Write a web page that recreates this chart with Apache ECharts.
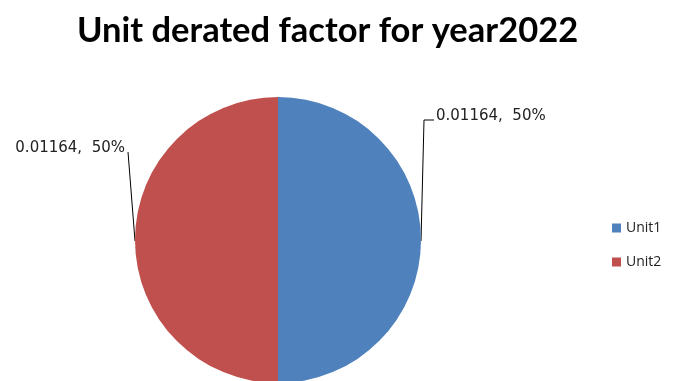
<!DOCTYPE html>
<html>
<head>
<meta charset="utf-8">
<script src="https://cdn.jsdelivr.net/npm/echarts@6/dist/echarts.min.js"></script>
<style>
  html, body { margin: 0; padding: 0; background: #fff; }
  #chart { width: 673px; height: 381px; }
</style>
</head>
<body>
<div id="chart"></div>
<script>
const units = ['Unit1', 'Unit2'];
const factors = [0.01164, 0.01164];
const colors = ['#4F81BD', '#C0504D'];

const center = [278, 240];
const radius = 143;

const chart = echarts.init(document.getElementById('chart'));

chart.setOption({
  animation: false,
  color: colors,
  title: {
    text: 'Unit derated factor for year2022',
    left: 72,
    top: 8,
    textStyle: {
      fontFamily: 'Lato',
      fontWeight: 'bold',
      fontSize: 34.5,
      color: '#000'
    }
  },
  legend: {
    orient: 'vertical',
    left: 607,
    top: 216,
    itemWidth: 9,
    itemHeight: 9,
    itemGap: 20,
    icon: 'rect',
    data: units,
    textStyle: {
      fontFamily: 'Open Sans',
      fontSize: 14,
      color: '#222'
    }
  },
  series: [{
    type: 'pie',
    center: center,
    radius: radius,
    startAngle: 90,
    clockwise: true,
    data: units.map((u, i) => ({ name: u, value: factors[i] })),
    label: {
      show: true,
      overflow: 'none',
      formatter: (p) => p.value + ',  ' + Math.round(p.percent) + '%',
      fontFamily: 'DejaVu Sans',
      fontSize: 15,
      color: '#222'
    },
    labelLine: {
      show: true,
      lineStyle: { color: '#000', width: 1 }
    },
    labelLayout: (params) => {
      if (params.dataIndex === 0) {
        return {
          x: 436,
          y: 116,
          align: 'left',
          verticalAlign: 'middle',
          labelLinePoints: [[421, 241], [424, 120], [434, 120]]
        };
      }
      return {
        x: 125,
        y: 148,
        align: 'right',
        verticalAlign: 'middle',
        labelLinePoints: [[135, 241], [128, 152], [128, 152]]
      };
    },
    emphasis: { disabled: true }
  }]
});
</script>
</body>
</html>
